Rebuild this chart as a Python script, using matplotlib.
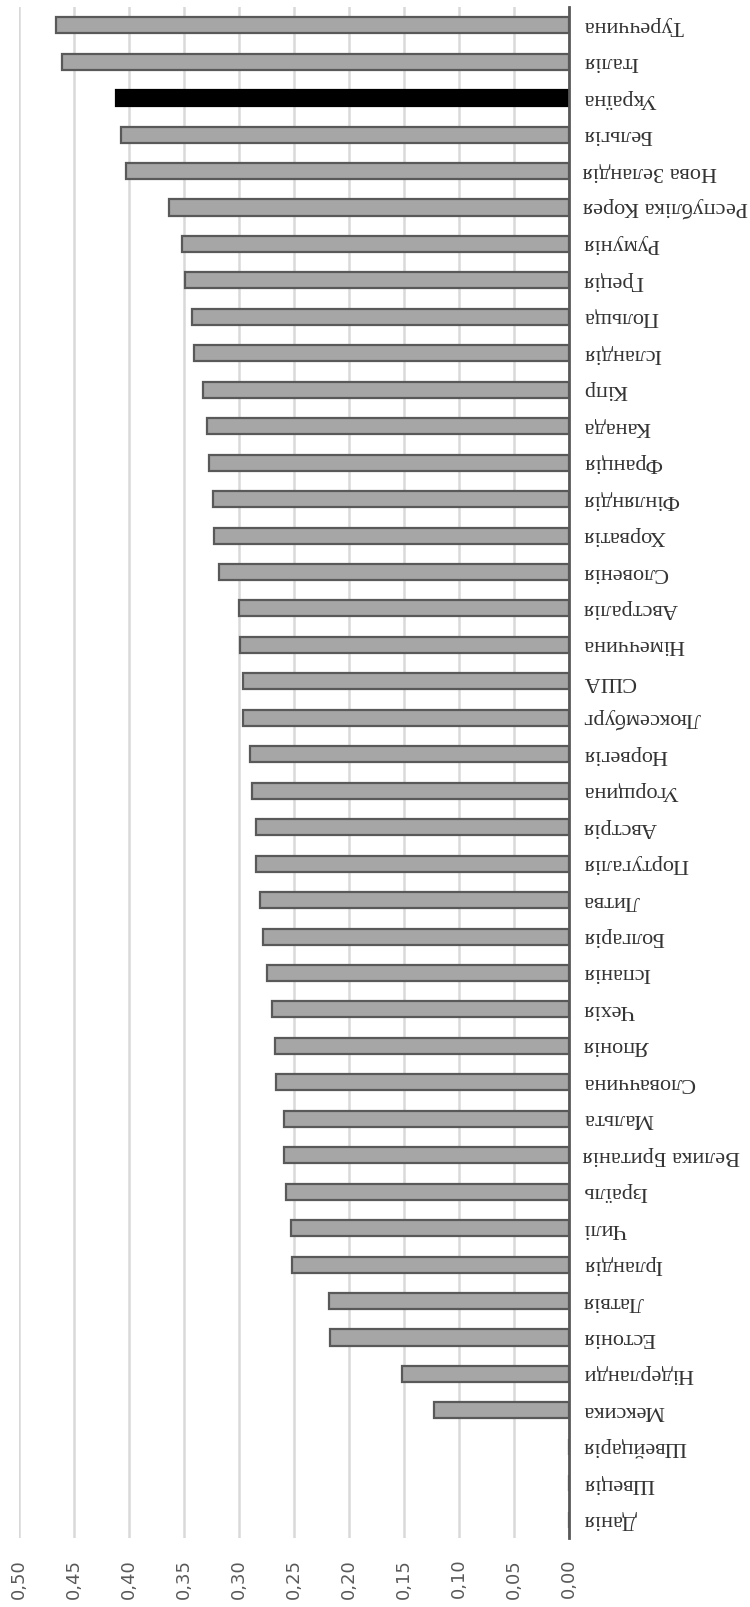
import matplotlib
matplotlib.use("Agg")
import matplotlib.pyplot as plt
from matplotlib.ticker import FixedLocator

countries = ["Туреччина", "Італія", "Україна", "Бельгія", "Нова Зеландія",
             "Республіка Корея", "Румунія", "Греція", "Польща", "Ісландія",
             "Кіпр", "Канада", "Франція", "Фінляндія", "Хорватія", "Словенія",
             "Австралія", "Німеччина", "США", "Люксембург", "Норвегія",
             "Угорщина", "Австрія", "Португалія", "Литва", "Болгарія",
             "Іспанія", "Чехія", "Японія", "Словаччина", "Мальта",
             "Велика Британія", "Ізраїль", "Чилі", "Ірландія", "Латвія",
             "Естонія", "Нідерланди", "Мексика", "Швейцарія", "Швеція", "Данія"]
values = [0.466, 0.461, 0.412, 0.407, 0.403,
          0.364, 0.352, 0.349, 0.343, 0.341,
          0.333, 0.329, 0.327, 0.324, 0.323, 0.318,
          0.300, 0.299, 0.296, 0.296, 0.290,
          0.288, 0.285, 0.285, 0.281, 0.278,
          0.275, 0.270, 0.267, 0.266, 0.259,
          0.259, 0.257, 0.253, 0.252, 0.218,
          0.217, 0.152, 0.123, 0.0, 0.0, 0.0]
highlight = "Україна"
xticks = [0.0, 0.05, 0.10, 0.15, 0.20, 0.25, 0.30, 0.35, 0.40, 0.45, 0.50]
xticklabels = ["0,00", "0,05", "0,10", "0,15", "0,20", "0,25", "0,30",
               "0,35", "0,40", "0,45", "0,50"]

W, H = 750, 1607
fig = plt.figure(figsize=(W / 100, H / 100), dpi=100)
ax = fig.add_axes([19 / W, 69 / H, 550 / W, (1538 - 7) / H])

n = len(countries)
ypos = list(range(n))
fills = ["#000000" if c == highlight else "#a6a6a6" for c in countries]
edges = ["#000000" if c == highlight else "#595959" for c in countries]
ax.barh(ypos, values, height=0.44, color=fills, edgecolor=edges,
        linewidth=1.6, zorder=3)

ax.set_xlim(0.5, 0.0)
ax.set_ylim(n - 0.5, -0.5)

ax.xaxis.set_major_locator(FixedLocator(xticks))
ax.set_xticklabels(xticklabels, rotation=90, fontsize=13, color="#595959",
                   family="DejaVu Sans")
ax.tick_params(axis="x", length=0, pad=15)
ax.grid(axis="x", color="#d9d9d9", linewidth=1.8, zorder=0)

ax.yaxis.tick_right()
ax.set_yticks(ypos)
ax.set_yticklabels(countries, rotation=180, fontsize=16, color="#333333",
                   family="Liberation Serif", va="center", ha="left")
ax.tick_params(axis="y", length=0, pad=10)

for s in ["top", "bottom", "left"]:
    ax.spines[s].set_visible(False)
ax.spines["right"].set_color("#595959")
ax.spines["right"].set_linewidth(2)
ax.spines["right"].set_zorder(4)

fig.savefig("out.png", dpi=100)
